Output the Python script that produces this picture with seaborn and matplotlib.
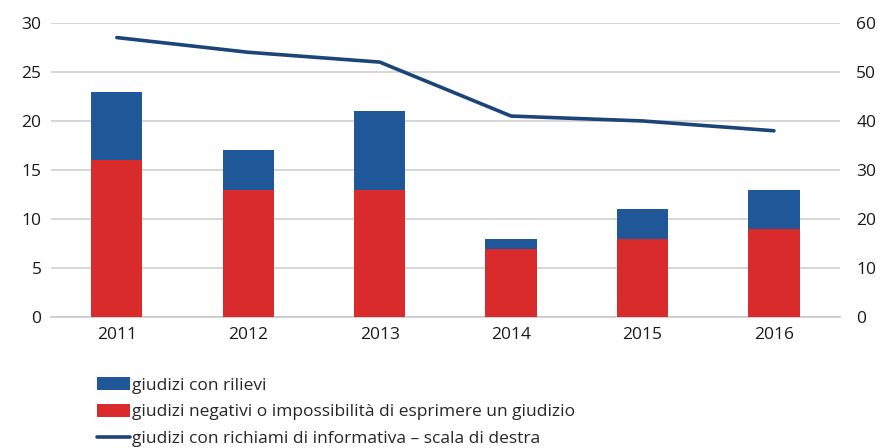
import matplotlib
matplotlib.use("Agg")
import matplotlib.pyplot as plt
import seaborn as sns
import pandas as pd
from matplotlib.patches import Patch
from matplotlib.lines import Line2D

anni = ["2011", "2012", "2013", "2014", "2015", "2016"]
negativi = [16, 13, 13, 7, 8, 9]
rilievi = [7, 4, 8, 1, 3, 4]
richiami = [57, 54, 52, 41, 40, 38]

rosso = "#D92B2C"
blu = "#1F5799"
blu_linea = "#1B4578"

sns.set_style("white")
plt.rcParams["font.family"] = ["Open Sans", "DejaVu Sans"]

df = pd.DataFrame({
    "anno": anni,
    "negativi": negativi,
    "totale": [a + b for a, b in zip(negativi, rilievi)],
    "richiami": richiami,
})

fig = plt.figure(figsize=(8.82, 4.48), dpi=100)
ax = fig.add_axes([0.058, 0.292, 0.894, 0.657])

# barre impilate: totale in blu, parte negativa in rosso sopra
sns.barplot(data=df, x="anno", y="totale", color=blu, width=0.39,
            saturation=1, ax=ax, edgecolor="none", zorder=2)
sns.barplot(data=df, x="anno", y="negativi", color=rosso, width=0.39,
            saturation=1, ax=ax, edgecolor="none", zorder=3)

ax.set_ylim(0, 30)
ax.set_yticks(range(0, 31, 5))
ax.set_xlim(-0.5, 5.5)
ax.set_xlabel("")
ax.set_ylabel("")
ax.grid(axis="y", color="#D0D0D0", linewidth=1.2, zorder=0)
ax.set_axisbelow(True)
for s in ["top", "right", "left"]:
    ax.spines[s].set_visible(False)
ax.spines["bottom"].set_color("#C8C8C8")
ax.spines["bottom"].set_linewidth(1.2)
ax.tick_params(axis="both", length=0, labelsize=12.5, colors="#1a1a1a", pad=7)

ax2 = ax.twinx()
sns.lineplot(x=list(range(len(anni))), y=df["richiami"], color=blu_linea,
             linewidth=2.6, ax=ax2, zorder=4)
ax2.set_ylim(0, 60)
ax2.set_yticks(range(0, 61, 10))
ax2.set_ylabel("")
for s in ax2.spines.values():
    s.set_visible(False)
ax2.tick_params(axis="y", length=0, labelsize=12.5, colors="#1a1a1a", pad=12)

handles = [
    Patch(facecolor=blu, edgecolor="none"),
    Patch(facecolor=rosso, edgecolor="none"),
    Line2D([0], [0], color=blu_linea, linewidth=2.6),
]
labels = [
    "giudizi con rilievi",
    "giudizi negativi o impossibilità di esprimere un giudizio",
    "giudizi con richiami di informativa – scala di destra",
]
fig.legend(handles, labels, loc="upper left", bbox_to_anchor=(0.11, 0.158),
           frameon=False, fontsize=12.5, handlelength=1.9, handleheight=0.75,
           handletextpad=0.1, labelspacing=0.6, borderaxespad=0,
           borderpad=0)

fig.savefig("out.png", dpi=100)
